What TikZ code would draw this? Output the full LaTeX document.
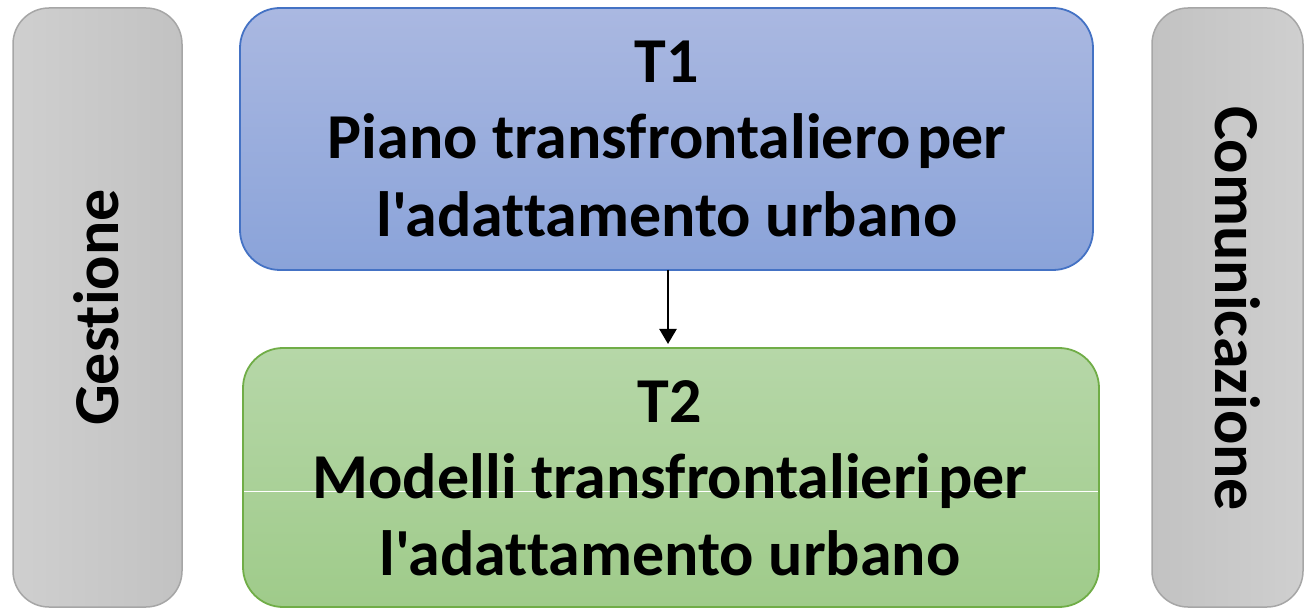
\documentclass[tikz,border=0pt]{standalone}
\usepackage{fontspec}
\newfontfamily\calib{Carlito}[Ligatures=NoCommon]
\usetikzlibrary{shadings,arrows.meta}
\definecolor{grayedge}{HTML}{A6A6A6}
\definecolor{grayA}{HTML}{CFCFCF}
\definecolor{grayB}{HTML}{C2C2C2}
\definecolor{blueedge}{HTML}{4472C4}
\definecolor{blueTop}{HTML}{AAB8E1}
\definecolor{blueBot}{HTML}{8AA3D9}
\definecolor{greenedge}{HTML}{70AD47}
\definecolor{greenTop}{HTML}{B6D7A8}
\definecolor{greenBot}{HTML}{9FCB8A}
\tikzset{
  sidebox/.style={draw=grayedge, line width=1.5pt, rounded corners=36pt, inner sep=0pt, outer sep=0pt},
  mainbox/.style={line width=1.8pt, rounded corners=40pt, inner sep=0pt, outer sep=0pt},
  bigtext/.style={font=\calib\fontsize{64}{77}\selectfont\bfseries, inner sep=0pt, anchor=base},
  sidetext/.style={font=\calib\fontsize{64}{77}\selectfont\bfseries, inner sep=0pt, anchor=base},
  flow/.style={line width=2.4pt, -{Triangle[length=15pt,width=17pt]}}
}
\begin{document}
\begin{tikzpicture}[x=1pt,y=-1pt]
\useasboundingbox (0,0) rectangle (1304,609);
% side boxes
\node[sidebox, left color=grayA, right color=grayB, minimum width=169pt, minimum height=599pt] (ges) at (97.5,307.5) {};
\node[sidebox, left color=grayB, right color=grayA, minimum width=151pt, minimum height=599pt] (com) at (1227.5,307.5) {};
\node[sidetext, rotate=90] (gestxt) at (118,307.5) {Gestione};
\node[sidetext, rotate=-90] (comtxt) at (1215,308.5) {Comunicazione};
% main boxes
\node[mainbox, draw=blueedge, top color=blueTop, bottom color=blueBot, minimum width=853pt, minimum height=262pt] (t1) at (666.5,139) {};
\node[mainbox, draw=greenedge, top color=greenTop, bottom color=greenBot, minimum width=856pt, minimum height=259pt] (t2) at (671,477.5) {};
\draw[white, line width=0.8pt] ([yshift=-13.5pt,xshift=1pt]t2.west) -- ([yshift=-13.5pt,xshift=-1pt]t2.east);
% texts
\node[bigtext] (t1a) at (667,83) {T1};
\node[bigtext] (t1b) at (667,159) {Piano transfrontaliero\hspace{-0.12em} per};
\node[bigtext] (t1c) at (667,237) {l'adattamento urbano};
\node[bigtext] (t2a) at (670,422) {T2};
\node[bigtext] (t2b) at (670,498) {Modelli transfrontalieri\hspace{-0.12em} per};
\node[bigtext] (t2c) at (670,575) {l'adattamento urbano};
% arrow
\coordinate (arrs) at ([xshift=1.5pt]t1.south);
\draw[flow, shorten >=4pt] (arrs) -- (arrs |- t2.north);
\end{tikzpicture}
\end{document}
